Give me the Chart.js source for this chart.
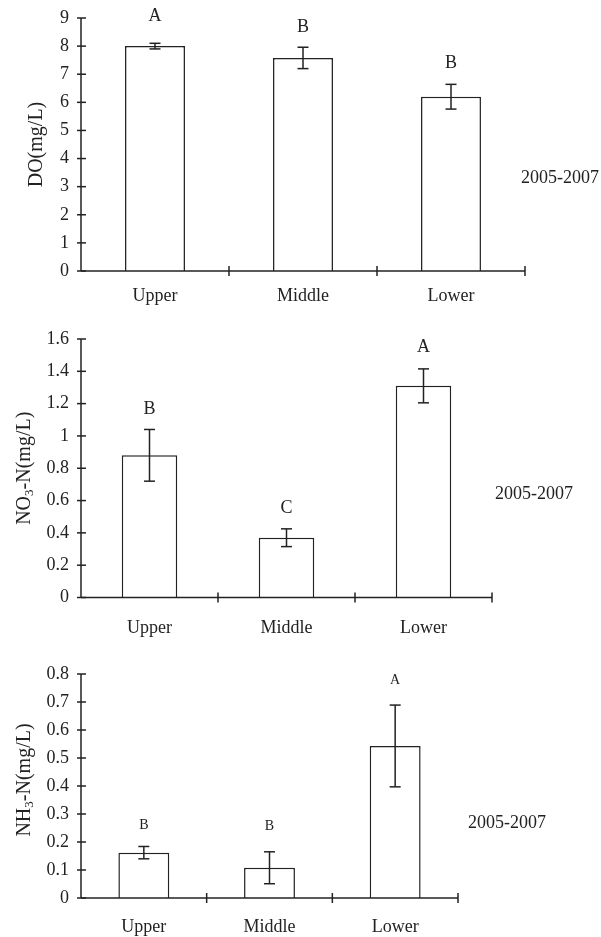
<!DOCTYPE html>
<html><head><meta charset="utf-8">
<script src="https://cdn.jsdelivr.net/npm/chart.js@4.4.0/dist/chart.umd.min.js"></script>
<style>
html,body{margin:0;padding:0;background:#fff;width:601px;height:937px;overflow:hidden;position:relative}
canvas{position:absolute;left:0}
</style>
</head><body>
<canvas id="c1" width="601" height="310" style="top:0px"></canvas>
<canvas id="c2" width="601" height="330" style="top:310px"></canvas>
<canvas id="c3" width="601" height="297" style="top:640px"></canvas>
<script>
// ---- data ----
const categories = ['Upper', 'Middle', 'Lower'];
const periodLabel = '2005-2007';

const doValues  = [8.0, 7.58, 6.2];
const doErrors  = [0.1, 0.38, 0.44];
const doLetters = ['A', 'B', 'B'];
const doTicks   = ['0','1','2','3','4','5','6','7','8','9'];
const doTitle   = [['DO(mg/L)', false]];

const no3Values  = [0.88, 0.37, 1.31];
const no3Errors  = [0.16, 0.055, 0.105];
const no3Letters = ['B', 'C', 'A'];
const no3Ticks   = ['0','0.2','0.4','0.6','0.8','1','1.2','1.4','1.6'];
const no3Title   = [['NO', false], ['3', true], ['-N(mg/L)', false]];

const nh3Values  = [0.162, 0.108, 0.543];
const nh3Errors  = [0.022, 0.057, 0.146];
const nh3Letters = ['B', 'B', 'A'];
const nh3Ticks   = ['0','0.1','0.2','0.3','0.4','0.5','0.6','0.7','0.8'];
const nh3Title   = [['NH', false], ['3', true], ['-N(mg/L)', false]];

// ---- style ----
const INK = '#222';
const SERIF = '"Liberation Serif", "Times New Roman", serif';

const decor = {
  id: 'decor',
  afterDatasetsDraw(chart, args, o) {
    const ctx = chart.ctx, xs = chart.scales.x, ys = chart.scales.y, ca = chart.chartArea;
    const n = chart.data.labels.length;
    ctx.save();
    ctx.strokeStyle = INK; ctx.fillStyle = INK; ctx.lineWidth = 1.5;
    const line = (x1, y1, x2, y2) => { ctx.beginPath(); ctx.moveTo(x1, y1); ctx.lineTo(x2, y2); ctx.stroke(); };
    // axes
    line(ca.left, ca.top, ca.left, ca.bottom);
    line(ca.left, ca.bottom, ca.right, ca.bottom);
    // y tick marks crossing the axis
    ys.ticks.forEach((t, i) => { const py = ys.getPixelForTick(i); line(ca.left - 4, py, ca.left + 5, py); });
    // x category boundary marks
    for (let i = 1; i <= n; i++) {
      const px = i < n ? (xs.getPixelForValue(i - 1) + xs.getPixelForValue(i)) / 2 : ca.right;
      line(px, ca.bottom - 5, px, ca.bottom + 5);
    }
    // error bars and letters
    const meta = chart.getDatasetMeta(0);
    const vals = chart.data.datasets[0].data;
    vals.forEach((v, i) => {
      const px = meta.data[i].x;
      const e = o.errors[i];
      const top = ys.getPixelForValue(v + e), bot = ys.getPixelForValue(v - e);
      line(px, top, px, bot);
      line(px - 5.5, top, px + 5.5, top);
      line(px - 5.5, bot, px + 5.5, bot);
      ctx.font = o.letterSize + 'px ' + SERIF;
      ctx.textAlign = 'center'; ctx.textBaseline = 'middle';
      ctx.fillText(o.letters[i], px, top - o.letterGap[i]);
    });
    // y title (rotated, with subscript)
    ctx.save();
    ctx.translate(o.titleX, (ca.top + ca.bottom) / 2 + o.titleDy);
    ctx.rotate(-Math.PI / 2);
    ctx.textAlign = 'left'; ctx.textBaseline = 'alphabetic';
    let total = 0;
    o.title.forEach(([s, sub]) => { ctx.font = (sub ? 13 : 20) + 'px ' + SERIF; total += ctx.measureText(s).width; });
    let cx = -total / 2;
    o.title.forEach(([s, sub]) => {
      ctx.font = (sub ? 13 : 20) + 'px ' + SERIF;
      ctx.fillText(s, cx, sub ? 10 : 7);
      cx += ctx.measureText(s).width;
    });
    ctx.restore();
    // period label
    ctx.font = '18px ' + SERIF;
    ctx.textAlign = 'left'; ctx.textBaseline = 'middle';
    ctx.fillText(periodLabel, o.periodX, o.periodY);
    ctx.restore();
  }
};

function makeChart(id, values, errors, letters, ticks, title, cfg) {
  const max = parseFloat(ticks[ticks.length - 1]);
  const step = parseFloat(ticks[1]);
  return new Chart(document.getElementById(id), {
    type: 'bar',
    data: {
      labels: categories,
      datasets: [{
        data: values,
        backgroundColor: '#fff',
        borderColor: INK,
        borderWidth: 1.5,
        categoryPercentage: 1,
        barPercentage: 0.405
      }]
    },
    options: {
      responsive: false,
      animation: false,
      devicePixelRatio: 1,
      layout: { padding: { top: cfg.padTop, right: cfg.padRight, left: 0, bottom: 0 } },
      plugins: {
        legend: { display: false },
        tooltip: { enabled: false },
        decor: {
          errors, letters, title,
          letterSize: cfg.letterSize, letterGap: cfg.letterGap,
          titleX: cfg.titleX, titleDy: cfg.titleDy || 0,
          periodX: cfg.periodX, periodY: cfg.periodY
        }
      },
      scales: {
        x: {
          type: 'category', offset: true,
          grid: { display: false }, border: { display: false },
          ticks: { font: { family: SERIF, size: 18 }, color: INK, padding: cfg.xPad, maxRotation: 0 },
          afterFit: s => { s.height = cfg.xH; }
        },
        y: {
          min: 0, max: max,
          grid: { display: false }, border: { display: false },
          ticks: {
            stepSize: step,
            font: { family: SERIF, size: 18 }, color: INK, padding: 4,
            callback: (v, i) => ticks[i]
          },
          afterFit: s => { s.width = 81; }
        }
      }
    },
    plugins: [decor]
  });
}

makeChart('c1', doValues, doErrors, doLetters, doTicks, doTitle,
  { padTop: 18, padRight: 76, xH: 39, xPad: 6, letterSize: 18, letterGap: [27, 20, 21],
    titleX: 35, periodX: 521, periodY: 178 });
makeChart('c2', no3Values, no3Errors, no3Letters, no3Ticks, no3Title,
  { padTop: 29, padRight: 109, xH: 42.5, xPad: 12, letterSize: 18, letterGap: [20, 21, 22],
    titleX: 23, periodX: 495, periodY: 184 });
makeChart('c3', nh3Values, nh3Errors, nh3Letters, nh3Ticks, nh3Title,
  { padTop: 34, padRight: 143, xH: 39, xPad: 10, letterSize: 14, letterGap: [21, 25, 25],
    titleX: 23, titleDy: -6, periodX: 468, periodY: 183 });
</script>
</body></html>
